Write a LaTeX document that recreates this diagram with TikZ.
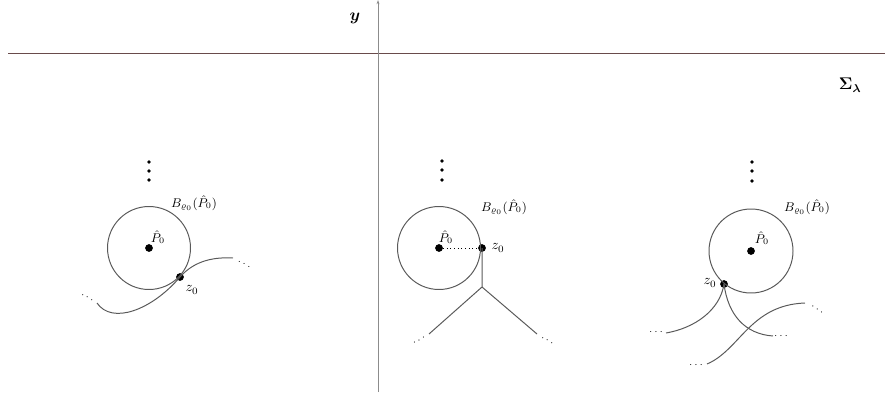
\documentclass[tikz,border=0pt]{standalone}
\usepackage{amsmath,amssymb}
\usetikzlibrary{arrows.meta}
\begin{document}
\begin{tikzpicture}[x=0.025cm,y=-0.025cm,
  curve/.style={draw=black!65,line width=0.7pt},
  pt/.style={circle,fill=black,inner sep=0pt,minimum size=5.5pt},
  vdot/.style={circle,fill=black,inner sep=0pt,minimum size=2.6pt},
  lab/.style={inner sep=1pt,font=\small},
  zlab/.style={inner sep=1pt,font=\normalsize},
  dts/.style={inner sep=0pt,font=\scriptsize}]
\useasboundingbox (0,0) rectangle (885,394);
% axes
\coordinate (hl) at (8,53);
\coordinate (hr) at (885,53);
\coordinate (vb) at (378,392);
\coordinate (vt) at (378,0);
\draw[draw={rgb,255:red,105;green,75;blue,75},line width=0.6pt] (hl) -- (hr);
\draw[draw=black!45,line width=0.5pt,-{Stealth[length=3pt,width=2pt]}] (vb) -- (vt);
\node[font=\large] (ylab) at (355,18) {$\boldsymbol{y}$};
\node[font=\large] (sig) at (850,85) {$\boldsymbol{\Sigma_\lambda}$};

% ---------- panel 1 ----------
\node[pt] (c1) at (149,248) {};
\node[pt] (z1) at (180,277) {};
\draw[curve] (c1) circle[radius=41.5];
\node[vdot] (v1a) at (149,162) {};
\node[vdot] (v1b) at (149,171) {};
\node[vdot] (v1c) at (149,180) {};
\node[lab] (P1) at (158,237) {$\hat P_0$};
\node[lab] (B1) at (194,203) {$B_{\varrho_0}(\hat P_0)$};
\node[zlab] (zl1) at (192,290) {$z_0$};
\coordinate (a1) at (97,303);
\coordinate (b1) at (233,258);
\draw[curve] (a1) .. controls (112,325) and (152,310) .. (z1.center)
  .. controls (195,260) and (215,257) .. (b1);
\node[dts,rotate=-30] (d1a) at (88,298) {$\cdots$};
\node[dts,rotate=-25] (d1b) at (245,265) {$\cdots$};

% ---------- panel 2 ----------
\node[pt] (c2) at (439,248) {};
\node[pt] (z2) at (482,248) {};
\draw[curve] (c2) circle[radius=41.5];
\draw[dotted,line width=0.6pt] (c2) -- (z2);
\node[vdot] (v2a) at (442,161) {};
\node[vdot] (v2b) at (442,170) {};
\node[vdot] (v2c) at (442,180) {};
\node[lab] (P2) at (446,237) {$\hat P_0$};
\node[lab] (B2) at (504,207) {$B_{\varrho_0}(\hat P_0)$};
\node[zlab] (zl2) at (498,248) {$z_0$};
\coordinate (j2) at (482,287);
\coordinate (l2) at (429,334);
\coordinate (r2) at (537,334);
\draw[curve] (z2.center) -- (j2) -- (l2);
\draw[curve] (j2) -- (r2);
\node[dts,rotate=30] (d2a) at (420,340) {$\cdots$};
\node[dts,rotate=-30] (d2b) at (548,341) {$\cdots$};

% ---------- panel 3 ----------
\node[pt] (c3) at (751,251) {};
\node[pt] (z3) at (724,284) {};
\draw[curve] (c3) circle[radius=42];
\node[vdot] (v3a) at (752,162) {};
\node[vdot] (v3b) at (752,171) {};
\node[vdot] (v3c) at (752,181) {};
\node[lab] (P3) at (762,238) {$\hat P_0$};
\node[lab] (B3) at (807,207) {$B_{\varrho_0}(\hat P_0)$};
\node[zlab] (zl3) at (710,283) {$z_0$};
\coordinate (a3) at (666,333);
\coordinate (b3) at (773,336);
\coordinate (e3) at (707,364);
\coordinate (f3) at (805,303);
\draw[curve] (z3.center) .. controls (720,310) and (695,328) .. (a3);
\draw[curve] (z3.center) .. controls (728,315) and (745,334) .. (b3);
\draw[curve] (e3) .. controls (740,350) and (750,305) .. (f3);
\node[dts] (d3a) at (657,332) {$\cdots$};
\node[dts] (d3b) at (782,336) {$\cdots$};
\node[dts] (d3c) at (697,365) {$\cdots$};
\node[dts,rotate=-35] (d3d) at (818,310) {$\cdots$};
\end{tikzpicture}
\end{document}
